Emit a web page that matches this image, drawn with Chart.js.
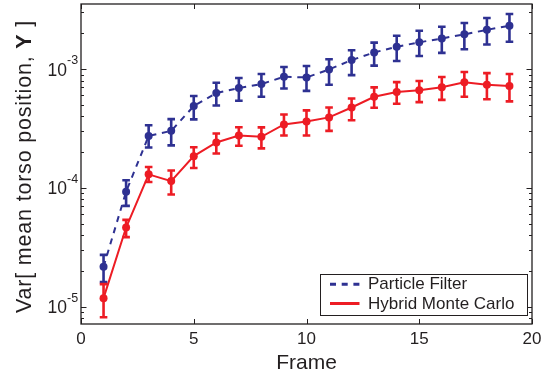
<!DOCTYPE html>
<html>
<head>
<meta charset="utf-8">
<script src="https://cdn.jsdelivr.net/npm/chart.js@4.4.1/dist/chart.umd.min.js"></script>
<style>
  html, body { margin: 0; padding: 0; background: #ffffff; }
  canvas { display: block; }
</style>
</head>
<body>
<canvas id="c" width="549" height="379"></canvas>
<script>
// ---- data ----
const frames = [1,2,3,4,5,6,7,8,9,10,11,12,13,14,15,16,17,18,19];
const pfMean  = [2.17e-5, 9.3e-5, 2.74e-4, 3.02e-4, 4.88e-4, 6.28e-4, 6.92e-4, 7.48e-4, 8.61e-4, 8.51e-4, 9.93e-4, 1.19e-3, 1.38e-3, 1.54e-3, 1.68e-3, 1.81e-3, 1.96e-3, 2.14e-3, 2.32e-3];
const pfUpper = [2.73e-5, 1.16e-4, 3.37e-4, 3.79e-4, 5.93e-4, 7.67e-4, 8.4e-4, 9.08e-4, 1.04e-3, 1.06e-3, 1.21e-3, 1.44e-3, 1.67e-3, 1.91e-3, 2.10e-3, 2.27e-3, 2.44e-3, 2.69e-3, 2.91e-3];
const pfLower = [1.61e-5, 7.05e-5, 2.19e-4, 2.28e-4, 3.77e-4, 4.94e-4, 5.41e-4, 5.85e-4, 6.87e-4, 6.56e-4, 7.38e-4, 8.89e-4, 1.07e-3, 1.17e-3, 1.29e-3, 1.37e-3, 1.47e-3, 1.61e-3, 1.70e-3];
const hmcMean  = [1.18e-5, 4.64e-5, 1.30e-4, 1.14e-4, 1.85e-4, 2.41e-4, 2.76e-4, 2.69e-4, 3.42e-4, 3.62e-4, 3.92e-4, 4.75e-4, 5.85e-4, 6.40e-4, 6.62e-4, 7.02e-4, 7.73e-4, 7.38e-4, 7.19e-4];
const hmcUpper = [1.55e-5, 5.38e-5, 1.50e-4, 1.40e-4, 2.20e-4, 2.87e-4, 3.24e-4, 3.23e-4, 4.15e-4, 4.49e-4, 4.75e-4, 5.66e-4, 7.02e-4, 7.77e-4, 7.93e-4, 8.57e-4, 9.44e-4, 9.24e-4, 9.08e-4];
const hmcLower = [8.14e-6, 3.85e-5, 1.12e-4, 8.8e-5, 1.47e-4, 1.95e-4, 2.26e-4, 2.15e-4, 2.76e-4, 2.76e-4, 3.02e-4, 3.71e-4, 4.72e-4, 5.11e-4, 5.27e-4, 5.51e-4, 5.85e-4, 5.58e-4, 5.35e-4];
const seriesNames = ['Particle Filter', 'Hybrid Monte Carlo'];
const xTicks = [0, 5, 10, 15, 20];
const yTicks = [1e-5, 1e-4, 1e-3];
const yTickBase = ['10', '10', '10'];
const yTickExp = ['-5', '-4', '-3'];
const xTitle = 'Frame';
const yTitleParts = ['Var[ mean torso position, ', 'Y', ' ]'];

// ---- styles ----
const BLUE = '#2e3192';
const RED = '#ed1c24';
const INK = '#231f20';
const FONT = "'Liberation Sans', Arial, Helvetica, sans-serif";
Chart.defaults.font.family = FONT;
Chart.defaults.color = INK;

const errors = [
  { lower: pfLower, upper: pfUpper, color: BLUE },
  { lower: hmcLower, upper: hmcUpper, color: RED }
];

const decorPlugin = {
  id: 'decor',
  afterDatasetsDraw(chart) {
    const ctx = chart.ctx, xs = chart.scales.x, ys = chart.scales.y;
    ctx.save();
    errors.forEach(e => {
      ctx.strokeStyle = e.color;
      ctx.lineWidth = 2.6;
      ctx.lineCap = 'butt';
      frames.forEach((f, i) => {
        const px = xs.getPixelForValue(f);
        const pt = ys.getPixelForValue(e.upper[i]);
        const pb = ys.getPixelForValue(e.lower[i]);
        ctx.beginPath();
        ctx.moveTo(px, pt); ctx.lineTo(px, pb);
        ctx.moveTo(px - 3.8, pt); ctx.lineTo(px + 3.8, pt);
        ctx.moveTo(px - 3.8, pb); ctx.lineTo(px + 3.8, pb);
        ctx.stroke();
      });
    });
    ctx.restore();
  },
  afterDraw(chart) {
    const ctx = chart.ctx, xs = chart.scales.x, ys = chart.scales.y;
    const a = chart.chartArea;
    ctx.save();
    // frame
    ctx.strokeStyle = INK;
    ctx.lineWidth = 1.3;
    ctx.strokeRect(a.left, a.top, a.right - a.left, a.bottom - a.top);
    // x ticks (bottom and top, inward)
    ctx.lineWidth = 1;
    ctx.beginPath();
    xTicks.forEach(v => {
      const px = Math.round(xs.getPixelForValue(v)) + 0.5;
      ctx.moveTo(px, a.bottom); ctx.lineTo(px, a.bottom - 5);
      ctx.moveTo(px, a.top); ctx.lineTo(px, a.top + 5);
    });
    // y ticks, major + minor log ticks (left and right, inward)
    const lo = Math.floor(Math.log10(ys.min)), hi = Math.ceil(Math.log10(ys.max));
    for (let d = lo; d <= hi; d++) {
      for (let m = 1; m <= 9; m++) {
        const v = m * Math.pow(10, d);
        if (v < ys.min || v > ys.max) continue;
        const py = Math.round(ys.getPixelForValue(v)) + 0.5;
        const len = m === 1 ? 5.5 : 3;
        ctx.moveTo(a.left, py); ctx.lineTo(a.left + len, py);
        ctx.moveTo(a.right, py); ctx.lineTo(a.right - len, py);
      }
    }
    ctx.stroke();

    // y tick labels: 10 with superscript exponent
    ctx.fillStyle = INK;
    ctx.textBaseline = 'alphabetic';
    ctx.textAlign = 'right';
    yTicks.forEach((v, i) => {
      const py = ys.getPixelForValue(v);
      const xr = a.left - 2.8;
      ctx.font = '12.5px ' + FONT;
      const ew = ctx.measureText(yTickExp[i]).width;
      ctx.fillText(yTickExp[i], xr, py - 5);
      ctx.font = '17.5px ' + FONT;
      ctx.fillText(yTickBase[i], xr - ew, py + 6.6);
    });

    // y title with bold Y
    ctx.textAlign = 'left';
    const fN = '21.5px ' + FONT, fB = 'bold 21.5px ' + FONT;
    ctx.letterSpacing = '0.8px';
    ctx.font = fN; const w1 = ctx.measureText(yTitleParts[0]).width;
    ctx.font = fB; const w2 = ctx.measureText(yTitleParts[1]).width;
    ctx.font = fN; const w3 = ctx.measureText(yTitleParts[2]).width;
    const total = w1 + w2 + w3;
    ctx.save();
    ctx.translate(30.5, 166.5);
    ctx.rotate(-Math.PI / 2);
    let sx = -total / 2;
    ctx.font = fN; ctx.fillText(yTitleParts[0], sx, 0); sx += w1;
    ctx.font = fB; ctx.fillText(yTitleParts[1], sx, 0); sx += w2;
    ctx.font = fN; ctx.fillText(yTitleParts[2], sx, 0);
    ctx.restore();
    ctx.letterSpacing = '0px';

    // legend
    const L = { x: 320.5, y: 274.5, w: 207, h: 41 };
    ctx.fillStyle = '#ffffff';
    ctx.fillRect(L.x, L.y, L.w, L.h);
    ctx.strokeStyle = INK;
    ctx.lineWidth = 1;
    ctx.strokeRect(L.x, L.y, L.w, L.h);
    const ds = chart.data.datasets;
    const rows = [284.3, 303.5];
    ds.forEach((d, i) => {
      ctx.save();
      ctx.strokeStyle = d.borderColor;
      ctx.lineWidth = 3;
      ctx.setLineDash(d.borderDash || []);
      ctx.beginPath();
      ctx.moveTo(330, rows[i]); ctx.lineTo(359.5, rows[i]);
      ctx.stroke();
      ctx.restore();
      ctx.fillStyle = INK;
      ctx.font = '17px ' + FONT;
      ctx.textAlign = 'left';
      ctx.textBaseline = 'middle';
      ctx.fillText(d.label, 368, rows[i] + 0.5);
    });
    ctx.restore();
  }
};

const chart = new Chart(document.getElementById('c'), {
  type: 'line',
  data: {
    datasets: [
      {
        label: seriesNames[0],
        data: frames.map((f, i) => ({ x: f, y: pfMean[i] })),
        borderColor: BLUE, backgroundColor: BLUE,
        borderWidth: 2, borderDash: [6, 5.7],
        pointRadius: 4, pointBorderWidth: 0, pointBackgroundColor: BLUE,
        tension: 0, fill: false
      },
      {
        label: seriesNames[1],
        data: frames.map((f, i) => ({ x: f, y: hmcMean[i] })),
        borderColor: RED, backgroundColor: RED,
        borderWidth: 2,
        pointRadius: 4, pointBorderWidth: 0, pointBackgroundColor: RED,
        tension: 0, fill: false
      }
    ]
  },
  options: {
    responsive: false,
    animation: false,
    events: [],
    layout: { padding: { top: 4, right: 17, left: 0, bottom: 0 } },
    plugins: { legend: { display: false }, tooltip: { enabled: false } },
    scales: {
      x: {
        type: 'linear', min: 0, max: 20,
        afterBuildTicks(s) { s.ticks = xTicks.map(v => ({ value: v })); },
        ticks: { font: { size: 17 }, padding: 5, color: INK, maxRotation: 0 },
        grid: { display: false, drawTicks: false },
        border: { display: false },
        title: { display: true, text: xTitle, font: { size: 21 }, color: INK, padding: { top: 0, bottom: 3 } },
        afterFit(s) { s.height = 55; }
      },
      y: {
        type: 'logarithmic', min: 7.15e-6, max: 3.53e-3,
        afterBuildTicks(s) { s.ticks = yTicks.map(v => ({ value: v })); },
        ticks: { display: false },
        grid: { display: false, drawTicks: false },
        border: { display: false },
        afterFit(s) { s.width = 81; }
      }
    }
  },
  plugins: [decorPlugin]
});
</script>
</body>
</html>
